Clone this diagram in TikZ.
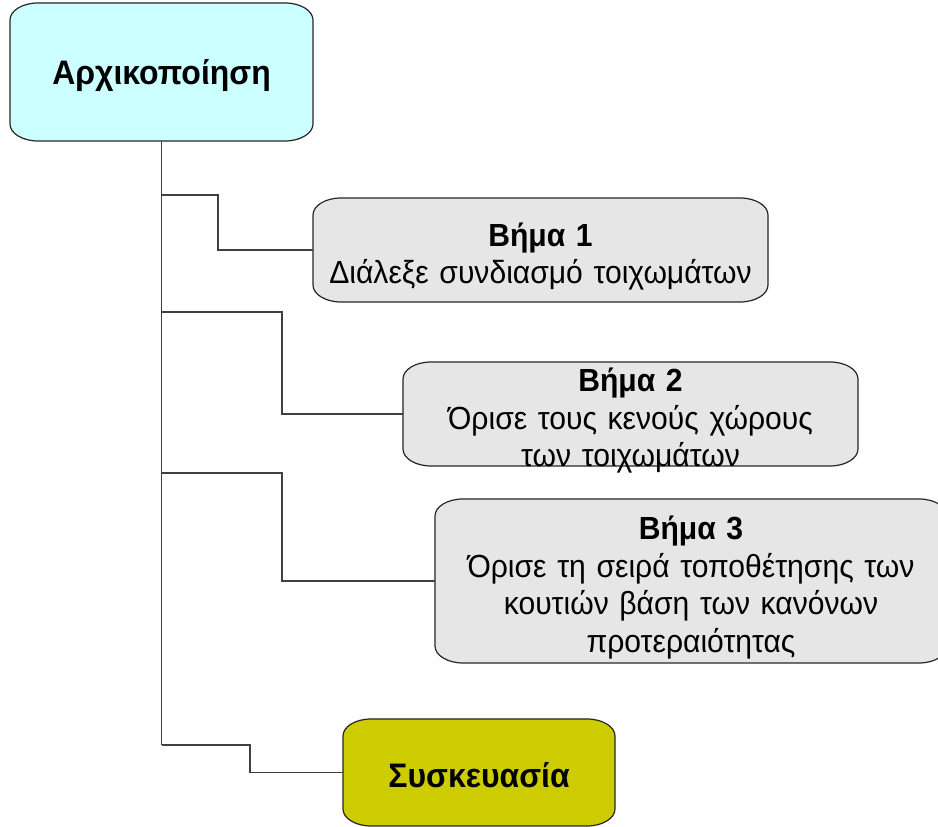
\documentclass[tikz,border=0pt]{standalone}
\usepackage{fontspec}
\setmainfont{Liberation Sans}[FakeStretch=0.94]
\usetikzlibrary{positioning,calc,backgrounds}

\definecolor{initfill}{HTML}{CCFFFF}
\definecolor{stepfill}{HTML}{E6E6E6}
\definecolor{packfill}{HTML}{CCCC00}

% box with oval corners round a node: name, width, height, fill
\newcommand{\rx}{28}
\newcommand{\ry}{17}
\newcommand{\ovalbox}[4]{%
\draw[boxline,fill=#4] ($(#1.center)+(-#2/2+\rx,#3/2)$) -- ($(#1.center)+(#2/2-\rx,#3/2)$)
  arc[start angle=90,end angle=0,x radius=\rx*1pt,y radius=\ry*1pt]
  -- ($(#1.center)+(#2/2,-#3/2+\ry)$)
  arc[start angle=0,end angle=-90,x radius=\rx*1pt,y radius=\ry*1pt]
  -- ($(#1.center)+(-#2/2+\rx,-#3/2)$)
  arc[start angle=270,end angle=180,x radius=\rx*1pt,y radius=\ry*1pt]
  -- ($(#1.center)+(-#2/2,#3/2-\ry)$)
  arc[start angle=180,end angle=90,x radius=\rx*1pt,y radius=\ry*1pt]
  -- cycle;}
\newcommand{\topstrut}[1]{\rule{0pt}{#1}}

\begin{document}
\begin{tikzpicture}[x=1pt,y=1pt,
  boxline/.style={draw=black!85,line width=1.2pt},
  link/.style={draw=black!75,line width=1.3pt},
  every node/.style={inner sep=0pt,align=center,font=\fontsize{32}{37.5}\selectfont},
  headbox/.style={font=\fontsize{34}{40}\selectfont\bfseries}]
\useasboundingbox (0,0) rectangle (938,827);
\clip (0,0) rectangle (938,827);

\node[headbox,text width=303pt,minimum height=138pt] (init) at (161.5,755) {\topstrut{33pt}Αρχικοποίηση};
\node[text width=455pt,minimum height=104pt] (step1) at (540.5,577)
  {\topstrut{37pt}\textbf{Βήμα 1}\\Διάλεξε συνδιασμό τοιχωμάτων};
\node[text width=455pt,minimum height=104pt] (step2) at (630.5,413)
  {\topstrut{37pt}\textbf{Βήμα 2}\\Όρισε τους κενούς χώρους\\των τοιχωμάτων};
\node[text width=512pt,minimum height=164pt] (step3) at (691,246)
  {\topstrut{37pt}\textbf{Βήμα 3}\\Όρισε τη σειρά τοποθέτησης των\\κουτιών βάση των κανόνων\\προτεραιότητας};
\node[headbox,text width=272pt,minimum height=107pt] (pack) at (479,54.5) {\topstrut{30pt}Συσκευασία};

\begin{scope}[on background layer]
\fill[white] (0,0) rectangle (938,827);
\ovalbox{init}{303}{138}{initfill}
\ovalbox{step1}{455}{104}{stepfill}
\ovalbox{step2}{455}{104}{stepfill}
\ovalbox{step3}{512}{164}{stepfill}
\ovalbox{pack}{272}{107}{packfill}
\end{scope}

% trunk and branches
\coordinate (t1) at (init.south |- 0,632);
\coordinate (t2) at (init.south |- 0,515);
\coordinate (t3) at (init.south |- 0,354);
\coordinate (t4) at (init.south |- 0,82);
\draw[link] (init.south) -- (t4);
\draw[link] (t1) -- ++(56.5,0) |- (step1.west);
\draw[link] (t2) -- ++(120.5,0) |- (step2.west);
\draw[link] (t3) -- ++(120.5,0) |- (step3.west);
\draw[link] (t4) -- ++(88.5,0) |- (pack.west);
\end{tikzpicture}
\end{document}
